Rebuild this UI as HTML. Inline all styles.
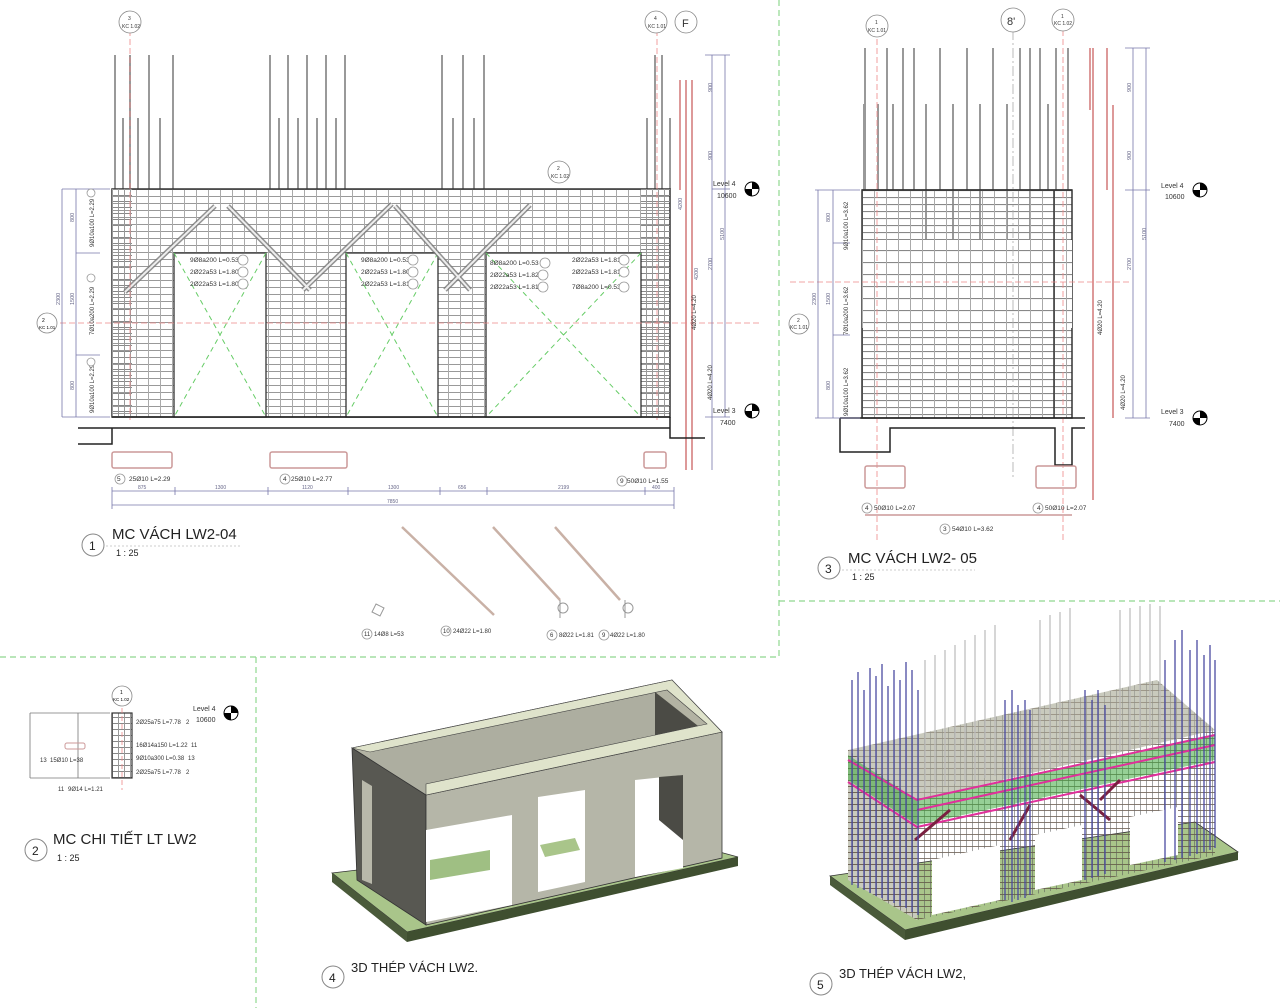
<!DOCTYPE html>
<html><head><meta charset="utf-8"><style>
html,body{margin:0;padding:0;background:#fff}
svg{display:block}
text{font-family:"Liberation Sans",sans-serif}
</style></head><body>
<svg width="1280" height="1008" viewBox="0 0 1280 1008" xmlns="http://www.w3.org/2000/svg">
<defs>
<pattern id="g1" x="112" y="189" width="12" height="7" patternUnits="userSpaceOnUse">
<line x1="0" y1="0.5" x2="12" y2="0.5" stroke="#999" stroke-width="1"/>
<line x1="0.5" y1="0" x2="0.5" y2="7" stroke="#aaa" stroke-width="1"/>
</pattern>
<pattern id="gp" x="112" y="189" width="6" height="6" patternUnits="userSpaceOnUse">
<line x1="0" y1="0.5" x2="6" y2="0.5" stroke="#888" stroke-width="1"/>
<line x1="0.5" y1="0" x2="0.5" y2="6" stroke="#999" stroke-width="1"/>
</pattern>
<pattern id="g3" x="862" y="190" width="12" height="7" patternUnits="userSpaceOnUse">
<line x1="0" y1="0.5" x2="12" y2="0.5" stroke="#888" stroke-width="1.2"/>
<line x1="0.5" y1="0" x2="0.5" y2="7" stroke="#aaa" stroke-width="1"/>
</pattern>
<pattern id="g3m" x="862" y="190" width="12" height="12" patternUnits="userSpaceOnUse">
<line x1="0" y1="0.5" x2="12" y2="0.5" stroke="#888" stroke-width="1.2"/>
<line x1="0.5" y1="0" x2="0.5" y2="12" stroke="#aaa" stroke-width="1"/>
</pattern>
<pattern id="r5" x="0" y="0" width="6" height="6" patternUnits="userSpaceOnUse">
<line x1="0" y1="0.5" x2="6" y2="0.5" stroke="#5a4a3a" stroke-width="0.8"/>
<line x1="0.5" y1="0" x2="0.5" y2="6" stroke="#555" stroke-width="0.6"/>
</pattern>
</defs>

<g stroke="#8fd88f" stroke-width="1.2" stroke-dasharray="6,4" fill="none">
<line x1="779" y1="0" x2="779" y2="657"/>
<line x1="0" y1="657" x2="779" y2="657"/>
<line x1="779" y1="601" x2="1280" y2="601"/>
<line x1="256" y1="657" x2="256" y2="1008"/>
</g>

<!-- ========== DRAWING 1 ========== -->
<g stroke="#999" stroke-width="2" fill="none">
<path d="M115 55V189M130 55V189M149 55V189M173 55V189M123 118V189M138 118V189M160 118V189
M270 55V189M288 55V189M307 55V189M326 55V189M345 55V189M279 118V189M298 118V189M317 118V189M336 118V189
M442 55V189M463 55V189M484 55V189M453 118V189M474 118V189
M655 55V189M662 55V189M647 118V189M670 118V189"/>
</g>
<g stroke="#d99" stroke-width="2" fill="none"><path d="M680 80V190M686 80V470M692 80V470"/></g>
<rect x="112" y="189" width="558" height="228" fill="url(#g1)" stroke="#333" stroke-width="1.5"/>
<rect x="112" y="189" width="20" height="228" fill="url(#gp)"/>
<rect x="641" y="189" width="29" height="228" fill="url(#gp)"/>
<g fill="#fff" stroke="#333" stroke-width="1.3">
<rect x="174" y="253" width="92" height="164"/>
<rect x="346" y="253" width="92" height="164"/>
<rect x="486" y="253" width="155" height="164"/>
</g>
<g stroke="#6c6" stroke-width="1" stroke-dasharray="5,4">
<path d="M174 253L266 417M266 253L174 417M346 253L438 417M438 253L346 417M486 253L641 417M641 253L486 417"/>
</g>
<g stroke="#777" stroke-width="5" fill="none" opacity="0.8">
<path d="M125 292L215 206M228 206L310 290M303 290L392 204M395 206L470 290M445 290L530 205"/>
</g>
<g stroke="#eee" stroke-width="2" fill="none">
<path d="M125 292L215 206M228 206L310 290M303 290L392 204M395 206L470 290M445 290L530 205"/>
</g>
<g font-size="6.5" fill="#333">
<text x="190" y="262">9Ø8a200 L=0.53</text><text x="190" y="274">2Ø22a53 L=1.80</text><text x="190" y="286">2Ø22a53 L=1.80</text>
<text x="361" y="262">9Ø8a200 L=0.53</text><text x="361" y="274">2Ø22a53 L=1.80</text><text x="361" y="286">2Ø22a53 L=1.81</text>
<text x="490" y="265">8Ø8a200 L=0.53</text><text x="490" y="277">2Ø22a53 L=1.82</text><text x="490" y="289">2Ø22a53 L=1.81</text>
<text x="572" y="262">2Ø22a53 L=1.81</text><text x="572" y="274">2Ø22a53 L=1.81</text><text x="572" y="289">7Ø8a200 L=0.53</text>
</g>
<g fill="#fff" stroke="#999" stroke-width="0.8">
<circle cx="243" cy="260" r="5"/><circle cx="243" cy="272" r="5"/><circle cx="243" cy="284" r="5"/>
<circle cx="413" cy="260" r="5"/><circle cx="413" cy="272" r="5"/><circle cx="413" cy="284" r="5"/>
<circle cx="545" cy="263" r="5"/><circle cx="543" cy="275" r="5"/><circle cx="543" cy="287" r="5"/>
<circle cx="624" cy="260" r="5"/><circle cx="624" cy="272" r="5"/><circle cx="624" cy="287" r="5"/>
</g>
<g stroke="#e88" stroke-width="0.8" stroke-dasharray="6,3">
<line x1="130" y1="30" x2="130" y2="420"/><line x1="657" y1="30" x2="657" y2="420"/>
<line x1="60" y1="323" x2="760" y2="323"/>
</g>
<g stroke="#222" stroke-width="1.5" fill="none">
<line x1="112" y1="417" x2="670" y2="417"/>
<path d="M78 428H112V444H78M112 428H670M670 417V438H705"/>
</g>
<g stroke="#77a" stroke-width="0.8" fill="none"><path d="M62 189V417M76 189V417M62 189H110M76 253H100M76 355H100M62 417H110"/></g>
<g font-size="5.5" fill="#668"><text transform="translate(60,305) rotate(-90)">2300</text><text transform="translate(74,222) rotate(-90)">800</text><text transform="translate(74,305) rotate(-90)">1500</text><text transform="translate(74,390) rotate(-90)">800</text></g>
<g font-size="6" fill="#333"><text transform="translate(94,247) rotate(-90)">9Ø10a100 L=2.29</text><text transform="translate(94,335) rotate(-90)">7Ø10a200 L=2.29</text><text transform="translate(94,413) rotate(-90)">9Ø10a100 L=2.29</text></g>
<g fill="#fff" stroke="#999" stroke-width="0.8"><circle cx="91" cy="193" r="4"/><circle cx="91" cy="278" r="4"/><circle cx="91" cy="362" r="4"/></g>
<circle cx="47" cy="323" r="10" fill="#fff" stroke="#888" stroke-width="0.8"/><text x="42" y="322" font-size="5">2</text><text x="39" y="329" font-size="4.5">KC 1.01</text>
<g stroke="#77a" stroke-width="0.8" fill="none"><path d="M712 55V470M725 55V417M705 55H730M712 189H730M705 417H730"/></g>
<g font-size="5.5" fill="#668"><text transform="translate(712,92) rotate(-90)">900</text><text transform="translate(712,160) rotate(-90)">900</text><text transform="translate(724,240) rotate(-90)">5100</text><text transform="translate(712,270) rotate(-90)">2700</text><text transform="translate(682,210) rotate(-90)">4200</text><text transform="translate(698,280) rotate(-90)">4200</text></g>
<g font-size="6" fill="#333"><text transform="translate(696,330) rotate(-90)">4Ø20 L=4.20</text><text transform="translate(712,400) rotate(-90)">4Ø20 L=4.20</text></g>
<text x="713" y="186" font-size="7" fill="#333">Level 4</text><text x="717" y="198" font-size="7" fill="#333">10600</text>
<text x="713" y="413" font-size="7" fill="#333">Level 3</text><text x="720" y="425" font-size="7" fill="#333">7400</text>
<g><circle cx="752" cy="189" r="7" fill="#fff" stroke="#000"/><path d="M752 182A7 7 0 0 1 759 189H752ZM752 196A7 7 0 0 1 745 189H752Z" fill="#000"/>
<circle cx="752" cy="411" r="7" fill="#fff" stroke="#000"/><path d="M752 404A7 7 0 0 1 759 411H752ZM752 418A7 7 0 0 1 745 411H752Z" fill="#000"/></g>
<g fill="#fff" stroke="#888" stroke-width="0.8"><circle cx="130" cy="22" r="11"/><circle cx="656" cy="22" r="11"/><circle cx="559" cy="172" r="11"/><circle cx="686" cy="22" r="11"/></g>
<g font-size="5" fill="#333"><text x="128" y="20">3</text><text x="122" y="28">KC 1.02</text><text x="654" y="20">4</text><text x="648" y="28">KC 1.01</text><text x="557" y="170">2</text><text x="551" y="178">KC 1.02</text></g>
<text x="682" y="27" font-size="11" fill="#333">F</text>
<g fill="none" stroke="#c99" stroke-width="1.5">
<rect x="112" y="452" width="60" height="16" rx="2"/><rect x="270" y="452" width="77" height="16" rx="2"/><rect x="644" y="452" width="22" height="16" rx="2"/>
</g>
<g font-size="6.5" fill="#333"><text x="129" y="481">25Ø10 L=2.29</text><text x="291" y="481">25Ø10 L=2.77</text><text x="627" y="483">50Ø10 L=1.55</text>
<text x="117" y="481">5</text><text x="283" y="481">4</text><text x="620" y="483">9</text></g>
<g fill="none" stroke="#999" stroke-width="0.8"><circle cx="120" cy="479" r="5"/><circle cx="285" cy="479" r="5"/><circle cx="622" cy="481" r="5"/></g>
<g stroke="#77a" stroke-width="0.8"><path d="M112 491H674M112 505H674M112 487V509M175 487V495M268 487V495M348 487V495M440 487V495M487 487V495M645 487V495M674 487V509"/></g>
<g font-size="5" fill="#668"><text x="138" y="489">875</text><text x="215" y="489">1300</text><text x="302" y="489">1120</text><text x="388" y="489">1300</text><text x="458" y="489">656</text><text x="558" y="489">2199</text><text x="652" y="489">400</text><text x="387" y="503">7850</text></g>
<circle cx="93" cy="545" r="11" fill="#fff" stroke="#888"/><text x="89" y="550" font-size="12" fill="#222">1</text>
<text x="112" y="539" font-size="15" fill="#222">MC VÁCH LW2-04</text>
<line x1="106" y1="546" x2="240" y2="546" stroke="#ccc" stroke-dasharray="2,2"/>
<text x="116" y="556" font-size="9" fill="#222">1 : 25</text>
<g stroke="#c9b1a6" stroke-width="2.5" fill="none"><path d="M402 527L494 615M493 527L560 600M555 527L620 600"/></g>
<g stroke="#999" stroke-width="1" fill="none"><circle cx="563" cy="608" r="5"/><circle cx="628" cy="608" r="5"/><path d="M560 600V618M625 600V618"/><path d="M376 604l8 4-4 8-8-4z"/></g>
<g font-size="6" fill="#333"><text x="374" y="636">14Ø8 L=53</text><text x="453" y="633">24Ø22 L=1.80</text><text x="559" y="637">8Ø22 L=1.81</text><text x="610" y="637">4Ø22 L=1.80</text>
<text x="364" y="636">11</text><text x="443" y="633">10</text><text x="550" y="637">6</text><text x="602" y="637">9</text></g>
<g fill="none" stroke="#999" stroke-width="0.8"><circle cx="367" cy="634" r="5"/><circle cx="446" cy="631" r="5"/><circle cx="552" cy="635" r="5"/><circle cx="604" cy="635" r="5"/></g>

<!-- ========== DRAWING 3 ========== -->
<g stroke="#999" stroke-width="2" fill="none">
<path d="M865 48V190M887 48V190M903 48V190M914 48V190M940 48V190M967 48V190M993 48V190M1020 48V190M1030 48V190M1040 48V190M1056 48V190M1068 48V190
M864 104V190M878 104V190M893 104V190M926 104V305M953 104V305M980 104V305M1007 104V305M1030 104V305M1048 104V190"/>
</g>
<g stroke="#d99" stroke-width="2" fill="none"><path d="M1090 48V110M1093 48V500M1107 48V190M1113 105V418"/></g>
<rect x="862" y="190" width="210" height="228" fill="url(#g3)" stroke="#333" stroke-width="1.5"/>
<rect x="862" y="240" width="210" height="88" fill="#fff"/>
<rect x="862" y="240" width="210" height="88" fill="url(#g3m)"/>
<line x1="862" y1="190" x2="1072" y2="190" stroke="#333" stroke-width="1.5"/>
<line x1="1054" y1="190" x2="1054" y2="418" stroke="#333" stroke-width="1.5"/>
<g stroke="#e88" stroke-width="0.8" stroke-dasharray="6,3"><line x1="877" y1="30" x2="877" y2="540"/><line x1="1063" y1="30" x2="1063" y2="540"/><line x1="790" y1="282" x2="1130" y2="282"/></g>
<line x1="1013" y1="30" x2="1013" y2="480" stroke="#aaa" stroke-width="0.8" stroke-dasharray="10,3,2,3"/>
<g stroke="#222" stroke-width="1.5" fill="none"><path d="M840 418H1085M840 418V452H890V428H1055V465H1072V428H1085"/></g>
<g stroke="#77a" stroke-width="0.8" fill="none"><path d="M818 190V418M833 190V418M815 190H860M833 243H850M833 335H850M815 418H860M1133 48V418M1146 48V418M1125 48H1150M1125 190H1150M1125 418H1150"/></g>
<g font-size="6" fill="#333"><text transform="translate(848,250) rotate(-90)">9Ø10a100 L=3.62</text><text transform="translate(848,335) rotate(-90)">7Ø10a200 L=3.62</text><text transform="translate(848,416) rotate(-90)">9Ø10a100 L=3.62</text><text transform="translate(1102,335) rotate(-90)">4Ø20 L=4.20</text><text transform="translate(1125,410) rotate(-90)">4Ø20 L=4.20</text></g>
<g font-size="5.5" fill="#668"><text transform="translate(1131,92) rotate(-90)">900</text><text transform="translate(1131,160) rotate(-90)">900</text><text transform="translate(1146,240) rotate(-90)">5100</text><text transform="translate(1131,270) rotate(-90)">2700</text><text transform="translate(816,305) rotate(-90)">2300</text><text transform="translate(830,222) rotate(-90)">800</text><text transform="translate(830,305) rotate(-90)">1500</text><text transform="translate(830,390) rotate(-90)">800</text></g>
<text x="1161" y="188" font-size="7" fill="#333">Level 4</text><text x="1165" y="199" font-size="7" fill="#333">10600</text>
<text x="1161" y="414" font-size="7" fill="#333">Level 3</text><text x="1169" y="426" font-size="7" fill="#333">7400</text>
<g><circle cx="1200" cy="190" r="7" fill="#fff" stroke="#000"/><path d="M1200 183A7 7 0 0 1 1207 190H1200ZM1200 197A7 7 0 0 1 1193 190H1200Z" fill="#000"/>
<circle cx="1200" cy="418" r="7" fill="#fff" stroke="#000"/><path d="M1200 411A7 7 0 0 1 1207 418H1200ZM1200 425A7 7 0 0 1 1193 418H1200Z" fill="#000"/></g>
<g fill="#fff" stroke="#888" stroke-width="0.8"><circle cx="877" cy="26" r="11"/><circle cx="1063" cy="20" r="11"/><circle cx="1013" cy="20" r="12"/><circle cx="799" cy="324" r="10"/></g>
<g font-size="5" fill="#333"><text x="875" y="24">1</text><text x="868" y="32">KC 1.01</text><text x="1061" y="18">1</text><text x="1054" y="25">KC 1.02</text><text x="797" y="322">2</text><text x="790" y="329">KC 1.01</text></g>
<text x="1007" y="25" font-size="11" fill="#333">8'</text>
<g fill="none" stroke="#c99" stroke-width="1.5"><rect x="865" y="466" width="40" height="22" rx="2"/><rect x="1036" y="466" width="40" height="22" rx="2"/><path d="M865 515H1072"/></g>
<g font-size="6.5" fill="#333"><text x="874" y="510">50Ø10 L=2.07</text><text x="1045" y="510">50Ø10 L=2.07</text><text x="952" y="531">54Ø10 L=3.62</text><text x="865" y="510">4</text><text x="1037" y="510">4</text><text x="943" y="531">3</text></g>
<g fill="none" stroke="#999" stroke-width="0.8"><circle cx="867" cy="508" r="5"/><circle cx="1038" cy="508" r="5"/><circle cx="945" cy="529" r="5"/></g>
<circle cx="829" cy="568" r="11" fill="#fff" stroke="#888"/><text x="825" y="573" font-size="12" fill="#222">3</text>
<text x="848" y="563" font-size="15" fill="#222">MC VÁCH LW2- 05</text>
<line x1="842" y1="570" x2="975" y2="570" stroke="#ccc" stroke-dasharray="2,2"/>
<text x="852" y="580" font-size="9" fill="#222">1 : 25</text>

<!-- ========== DETAIL 2 ========== -->
<g stroke="#777" stroke-width="0.8" fill="none"><path d="M30 713V778M30 713H110M30 778H110M78 713V778"/></g>
<rect x="112" y="713" width="20" height="65" fill="url(#gp)" stroke="#333" stroke-width="1.2"/>
<rect x="65" y="743" width="20" height="6" rx="2" fill="none" stroke="#c99"/>
<line x1="122" y1="700" x2="122" y2="790" stroke="#e88" stroke-dasharray="5,3" stroke-width="0.8"/>
<circle cx="122" cy="696" r="10" fill="#fff" stroke="#888" stroke-width="0.8"/><text x="120" y="694" font-size="5">1</text><text x="113" y="701" font-size="4.5">KC 1.02</text>
<g font-size="6" fill="#333"><text x="136" y="724">2Ø25a75 L=7.78</text><text x="136" y="747">16Ø14a150 L=1.22</text><text x="136" y="760">9Ø10a300 L=0.38</text><text x="136" y="774">2Ø25a75 L=7.78</text><text x="50" y="762">15Ø10 L=38</text><text x="68" y="791">9Ø14 L=1.21</text>
<text x="186" y="724">2</text><text x="191" y="747">11</text><text x="188" y="760">13</text><text x="186" y="774">2</text><text x="40" y="762">13</text><text x="58" y="791">11</text></g>
<text x="193" y="711" font-size="7" fill="#333">Level 4</text><text x="196" y="722" font-size="7" fill="#333">10600</text>
<circle cx="231" cy="713" r="7" fill="#fff" stroke="#000"/><path d="M231 706A7 7 0 0 1 238 713H231ZM231 720A7 7 0 0 1 224 713H231Z" fill="#000"/>
<circle cx="36" cy="850" r="11" fill="#fff" stroke="#888"/><text x="32" y="855" font-size="12" fill="#222">2</text>
<text x="53" y="844" font-size="15" fill="#222">MC CHI TIẾT LT LW2</text>
<text x="57" y="861" font-size="9" fill="#222">1 : 25</text>

<!-- ========== 3D 4 ========== -->
<polygon points="332,873 657,835 738,857 407,932" fill="#a9c58a" stroke="#333" stroke-width="0.8"/>
<polygon points="332,873 407,932 407,942 332,882" fill="#4a5a3a"/>
<polygon points="407,932 738,857 738,866 407,942" fill="#3f4f30"/>
<polygon points="352,748 672,680 722,732 426,795" fill="#b3b3a3" stroke="#444" stroke-width="0.8"/>
<polygon points="370,752 655,692 655,765 370,830" fill="#adaea0"/>
<polygon points="655,692 707,733 707,780 655,765" fill="#4b4b45"/>
<polygon points="352,748 426,795 426,925 357,880" fill="#585852" stroke="#333" stroke-width="0.8"/>
<polygon points="362,780 372,786 372,884 362,880" fill="#b8b8aa"/>
<polygon points="426,795 722,732 722,858 426,925" fill="#b5b6a8" stroke="#333" stroke-width="0.8"/>
<polygon points="426,830 512,815 512,905 426,922" fill="#fff"/>
<polygon points="430,860 490,850 490,870 430,880" fill="#9fbf83"/>
<polygon points="538,797 585,790 585,882 538,892" fill="#fff"/>
<polygon points="635,780 683,775 683,868 635,877" fill="#fff"/>
<polygon points="540,845 575,838 580,850 545,857" fill="#a9c58a"/>
<polygon points="659,777 683,775 683,840 659,820" fill="#4b4b45"/>
<polygon points="352,748 672,680 722,732 426,795 426,784 707,724 667,690 370,752" fill="#dfe3cb" stroke="#444" stroke-width="0.6"/>
<circle cx="333" cy="977" r="11" fill="#fff" stroke="#888"/><text x="329" y="982" font-size="12" fill="#222">4</text>
<text x="351" y="972" font-size="13" fill="#222">3D THÉP VÁCH LW2.</text>

<!-- ========== 3D 5 ========== -->
<polygon points="830,876 1195,822 1238,852 905,930" fill="#a9c58a" stroke="#333" stroke-width="0.8"/>
<polygon points="830,876 905,930 905,940 830,885" fill="#4a5a3a"/>
<polygon points="905,930 1238,852 1238,860 905,940" fill="#3f4f30"/>
<polygon points="848,750 1157,680 1215,730 917,800 917,920 848,880" fill="#c9cabd"/>
<polygon points="917,800 1215,730 1215,855 917,920" fill="url(#r5)" opacity="0.9"/>
<polygon points="848,750 1157,680 1215,730 917,800" fill="url(#r5)" opacity="0.5"/>
<polygon points="848,750 917,800 917,920 848,880" fill="url(#r5)"/>
<polygon points="932,860 1000,845 1000,900 932,915" fill="#fff"/>
<polygon points="1035,835 1082,825 1082,880 1035,890" fill="#fff"/>
<polygon points="1130,817 1178,807 1178,855 1130,865" fill="#fff"/>
<polygon points="848,755 917,800 1215,735 1215,760 917,825 848,780" fill="#3faa3f" opacity="0.55"/>
<g stroke="#e0309a" stroke-width="2" fill="none"><path d="M848,760 917,800 1215,735M848,782 917,827 1215,762M917,810 1215,745"/></g>
<g stroke="#7a2040" stroke-width="3" fill="none"><path d="M915 840L950 810M1010 840L1030 805M1100 800L1120 780M1080 795L1110 820"/></g>
<g stroke="#4848a0" stroke-width="1.5" fill="none" opacity="0.85">
<path d="M852 680V885M858 672V888M864 690V890M870 668V893M876 676V896M882 664V898M888 686V900M894 670V903M900 680V906M906 662V908M912 670V912M918 690V915
M1005 700V900M1012 690V902M1018 705V900M1025 700V898M1030 710V895
M1085 690V880M1092 700V878M1098 690V876M1105 705V874
M1175 640V860M1182 630V858M1190 650V856M1197 640V854M1204 655V852M1210 645V850M1165 660V862M1215 660V848"/>
</g>
<g stroke="#bbb" stroke-width="1.2" fill="none">
<path d="M925 660V790M935 655V788M945 650V786M955 645V784M965 640V782M975 635V780M985 630V778M995 625V776M1040 620V770M1050 615V768M1060 612V766M1070 608V764M1120 610V752M1130 608V750M1140 606V748M1150 604V746M1160 606V744"/>
</g>
<circle cx="821" cy="984" r="11" fill="#fff" stroke="#888"/><text x="817" y="989" font-size="12" fill="#222">5</text>
<text x="839" y="978" font-size="13" fill="#222">3D THÉP VÁCH LW2,</text>
</svg>
</body></html>
